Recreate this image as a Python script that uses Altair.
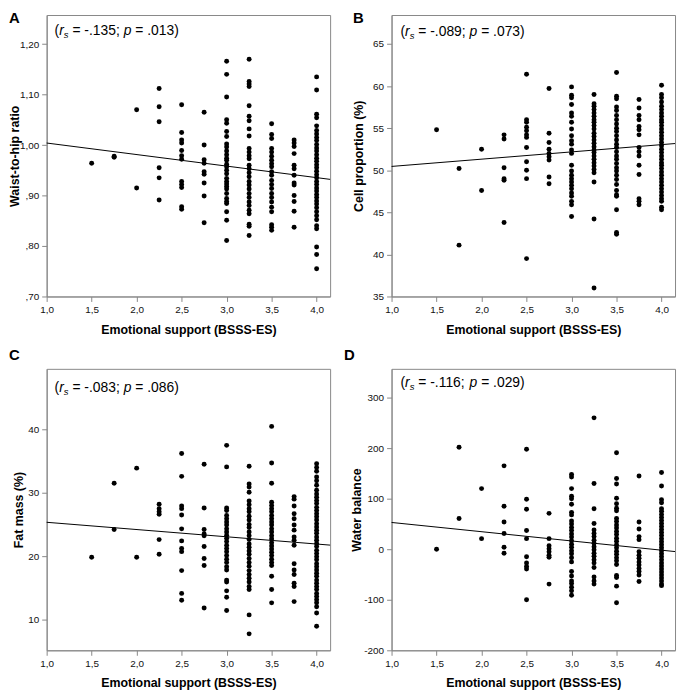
import altair as alt
import pandas as pd

FONT = "Liberation Sans"
GREY = "#888888"

x_ticks = [1.0, 1.5, 2.0, 2.5, 3.0, 3.5, 4.0]
x_domain = [1.0, 4.15]
x_title = "Emotional support (BSSS-ES)"

# ---- Panel A: waist-to-hip ratio ----
whr_points = {
    1.5: [0.964],
    1.75: [0.978, 0.976],
    2.0: [1.070, 0.915],
    2.25: [1.112, 1.076, 1.046, 0.955, 0.935, 0.891],
    2.5: [1.080, 1.025, 1.010, 1.004, 0.989, 0.979, 0.972, 0.928, 0.922, 0.916, 0.878, 0.873],
    2.75: [1.065, 1.000, 0.971, 0.964, 0.947, 0.942, 0.925, 0.899, 0.846],
    3.0: [1.166, 1.140, 1.095, 1.050, 1.043, 1.027, 1.017, 1.002, 0.996, 0.988, 0.981, 0.974,
          0.970, 0.962, 0.957, 0.950, 0.943, 0.934, 0.928, 0.923, 0.918, 0.913, 0.904, 0.894,
          0.888, 0.884, 0.868, 0.851, 0.811],
    3.25: [1.170, 1.126, 1.121, 1.116, 1.078, 1.057, 1.048, 1.032, 1.018, 0.993, 0.986, 0.979,
           0.973, 0.960, 0.953, 0.945, 0.937, 0.928, 0.921, 0.913, 0.904, 0.896, 0.887, 0.880,
           0.871, 0.864, 0.843, 0.839, 0.821],
    3.5: [1.042, 1.021, 1.013, 0.993, 0.986, 0.978, 0.970, 0.963, 0.957, 0.947, 0.940, 0.930,
          0.922, 0.914, 0.904, 0.896, 0.887, 0.877, 0.868, 0.842, 0.837, 0.831],
    3.75: [1.010, 1.004, 0.997, 0.983, 0.960, 0.953, 0.940, 0.925, 0.921, 0.900, 0.888, 0.869, 0.837],
    4.0: [1.135, 1.109, 1.061, 1.054, 1.038, 1.029, 1.022, 1.015, 1.009, 1.001, 0.994, 0.988,
          0.981, 0.974, 0.968, 0.961, 0.955, 0.948, 0.941, 0.935, 0.928, 0.922, 0.915, 0.909,
          0.902, 0.896, 0.889, 0.883, 0.876, 0.868, 0.860, 0.852, 0.840, 0.834, 0.798, 0.783, 0.755],
}
whr_line = [1.004, 0.932]
whr_ticks = [0.70, 0.80, 0.90, 1.00, 1.10, 1.20]
whr_domain = [0.70, 1.2576]

# ---- Panel B: cell proportion ----
cell_points = {
    1.5: [54.8],
    1.75: [50.2, 41.1],
    2.0: [52.5, 47.6],
    2.25: [54.2, 53.7, 50.3, 49.0, 48.8, 43.8],
    2.5: [61.4, 56.0, 55.7, 55.1, 54.7, 54.2, 53.9, 52.7, 51.0, 50.0, 49.0, 39.5],
    2.75: [59.7, 54.4, 53.3, 52.5, 52.0, 51.6, 51.2, 49.2, 48.4],
    3.0: [59.9, 58.9, 58.6, 57.8, 56.8, 56.4, 55.7, 54.9, 54.1, 53.5, 53.1, 52.4, 52.0, 50.6,
          49.9, 49.4, 49.0, 48.6, 48.2, 47.8, 47.3, 46.9, 46.3, 45.9, 44.5],
    3.25: [59.0, 57.9, 57.6, 57.2, 56.8, 56.4, 56.0, 55.7, 55.3, 54.9, 54.4, 54.0, 53.6, 53.2,
           52.8, 52.4, 52.1, 51.7, 51.3, 50.9, 50.5, 50.1, 49.7, 48.6, 44.2, 36.0],
    3.5: [61.6, 58.8, 58.5, 57.5, 57.1, 56.5, 56.0, 55.5, 55.0, 54.6, 54.1, 53.6, 53.1, 52.7,
          52.2, 51.7, 51.3, 50.8, 50.3, 49.9, 49.4, 48.9, 48.3, 47.6, 47.1, 46.9, 45.3, 42.6, 42.4],
    3.75: [58.4, 57.4, 56.5, 56.0, 55.2, 54.8, 54.2, 52.7, 52.2, 51.7, 50.6, 49.5, 46.6, 46.3, 45.9],
    4.0: [60.1, 59.0, 58.6, 58.1, 57.6, 57.2, 56.8, 56.4, 56.0, 55.7, 55.3, 54.9, 54.5, 54.1,
          53.7, 53.3, 52.9, 52.5, 52.1, 51.7, 51.3, 50.9, 50.6, 50.2, 49.8, 49.4, 49.0, 48.6,
          48.2, 47.8, 47.4, 47.0, 46.6, 46.3, 45.6, 45.3],
}
cell_line = [50.45, 53.17]
cell_ticks = [35, 40, 45, 50, 55, 60, 65]
cell_domain = [35, 68.44]

# ---- Panel C: fat mass ----
fat_points = {
    1.5: [19.8],
    1.75: [31.5, 24.2],
    2.0: [33.9, 19.8],
    2.25: [28.2, 27.5, 27.0, 26.6, 22.6, 20.3],
    2.5: [36.2, 32.6, 27.9, 27.5, 26.5, 24.3, 22.4, 21.2, 20.7, 17.7, 14.1, 13.0],
    2.75: [34.5, 27.6, 24.2, 23.5, 23.2, 21.5, 19.6, 18.5, 11.8],
    3.0: [37.5, 34.1, 27.6, 27.2, 26.4, 25.9, 25.4, 24.9, 24.3, 23.8, 23.3, 22.8, 22.3, 21.7,
          21.2, 20.7, 20.1, 19.5, 19.0, 18.3, 17.8, 16.2, 15.9, 14.5, 13.5, 11.4],
    3.25: [34.2, 31.4, 30.9, 30.1, 28.7, 28.1, 27.5, 27.0, 26.3, 25.7, 25.0, 24.5, 23.8, 23.2,
           22.6, 21.9, 21.4, 20.8, 20.3, 19.6, 19.0, 18.4, 17.7, 17.1, 16.5, 15.9, 15.2, 14.7,
           10.7, 7.7],
    3.5: [40.5, 34.7, 31.5, 28.5, 28.0, 27.5, 27.0, 26.4, 25.9, 25.4, 24.9, 24.3, 23.8, 23.2,
          22.7, 22.1, 21.6, 21.1, 20.6, 20.1, 19.5, 19.0, 18.5, 16.8, 14.7, 12.6],
    3.75: [29.4, 29.0, 27.9, 26.7, 25.9, 24.9, 24.1, 23.0, 22.5, 21.7, 18.8, 17.8, 17.1, 15.7,
           15.2, 12.8],
    4.0: [34.6, 34.0, 33.4, 32.5, 31.9, 31.2, 30.4, 29.8, 29.3, 28.8, 28.3, 27.7, 27.2, 26.7,
          26.2, 25.7, 25.1, 24.6, 24.1, 23.6, 23.0, 22.5, 22.0, 21.5, 20.9, 20.4, 19.9, 19.4,
          18.8, 18.3, 17.8, 17.3, 16.8, 16.2, 15.7, 15.2, 14.7, 14.1, 13.6, 13.1, 12.6, 12.0,
          11.0, 8.9],
}
fat_line = [25.34, 21.73]
fat_ticks = [10, 20, 30, 40]
fat_domain = [5.1, 49.6]

# ---- Panel D: water balance ----
water_points = {
    1.5: [0],
    1.75: [202, 61],
    2.0: [120, 21],
    2.25: [165, 85, 54, 31, 4, -8],
    2.5: [198, 99, 79, 37, 21, -15, -27, -34, -39, -100],
    2.75: [71, 21, 7, 1, -5, -12, -16, -69],
    3.0: [148, 143, 120, 105, 100, 89, 73, 68, 56, 50, 43, 37, 30, 24, 17, 10, 4, -3, -9, -17,
          -25, -44, -53, -63, -68, -75, -82, -91],
    3.25: [260, 130, 80, 51, 38, 31, 25, 18, 12, 5, -1, -8, -14, -21, -27, -36, -55, -63, -69],
    3.5: [191, 140, 129, 101, 90, 81, 76, 61, 55, 48, 42, 35, 29, 22, 16, 9, 3, -4, -10, -17,
          -23, -30, -52, -56, -73, -106],
    3.75: [145, 54, 40, 25, 19, -5, -12, -18, -25, -31, -38, -44, -51, -64],
    4.0: [152, 125, 98, 92, 80, 75, 69, 63, 57, 51, 45, 39, 33, 27, 21, 15, 9, 3, -3, -9, -15,
          -21, -27, -33, -39, -45, -51, -57, -63, -69, -72],
}
water_line = [53.0, -4.6]
water_ticks = [-200, -100, 0, 100, 200, 300]
water_domain = [-200, 357]

# Liberation Sans (Arial metrics) advance widths in em
CHAR_W = {'(': 0.333, ')': 0.333, 'r': 0.333, 's': 0.5, ' ': 0.278, '=': 0.584,
          '-': 0.333, '.': 0.278, ';': 0.278, 'p': 0.556}
SPACE = 0.278


def text_width(s, size):
    return sum(CHAR_W.get(c, 0.556) for c in s) * size


def panel(points, line_y, y_domain, y_ticks, y_title, y_label_expr, letter, stat_r, stat_p,
          letter_xy, title_x, ann_xy):
    rows = [{"x": k, "y": v} for k, vals in points.items() for v in vals]
    df = pd.DataFrame(rows)
    xs = alt.Scale(domain=x_domain, nice=False, zero=False)
    ys = alt.Scale(domain=y_domain, nice=False, zero=False)
    x_axis = alt.Axis(values=x_ticks, title=x_title,
                      labelExpr="replace(format(datum.value, '.1f'), '.', ',')",
                      titleY=27, titleBaseline="top")
    y_axis = alt.Axis(values=y_ticks, title=y_title, labelExpr=y_label_expr,
                      titleX=title_x, titleBaseline="alphabetic")
    pts = alt.Chart(df).mark_circle(size=25, color="black", opacity=1).encode(
        x=alt.X("x:Q", scale=xs, axis=x_axis),
        y=alt.Y("y:Q", scale=ys, axis=y_axis),
    )
    ldf = pd.DataFrame({"x": x_domain, "y": line_y})
    line = alt.Chart(ldf).mark_line(color="black", strokeWidth=1).encode(x="x:Q", y="y:Q")
    let = alt.Chart(pd.DataFrame({"t": [letter]})).mark_text(
        font=FONT, fontSize=15, fontWeight="bold", align="left", baseline="top", color="black"
    ).encode(text="t:N", x=alt.value(letter_xy[0]), y=alt.value(letter_xy[1]))

    # (text, size, style, baseline shift, gap after in em of 14px space)
    segs = [("(", 14, "normal", 0, 0), ("r", 14, "italic", 0, 0), ("s", 9.5, "italic", 3, 1),
            (f"= {stat_r};", 14, "normal", 0, 1), ("p", 14, "italic", 0, 1),
            (f"= {stat_p})", 14, "normal", 0, 0)]
    layers = [pts, line, let]
    cx = ann_xy[0]
    for s, size, style, dy, gap in segs:
        layers.append(
            alt.Chart(pd.DataFrame({"t": [s]})).mark_text(
                font=FONT, fontSize=size, fontStyle=style, align="left",
                baseline="alphabetic", color="black"
            ).encode(text="t:N", x=alt.value(cx), y=alt.value(ann_xy[1] + dy))
        )
        cx += text_width(s, size) + gap * SPACE * 14
    return alt.layer(*layers).properties(width=286, height=284)


dec_expr = "replace(replace(format(datum.value, '.2f'), '0.', ','), '.', ',')"
int_expr = "'' + datum.value"

pA = panel(whr_points, whr_line, whr_domain, whr_ticks, "Waist-to-hip ratio", dec_expr,
           "A", "-.135", ".013", (-38, -3.5), -28, (8, 20.5))
pB = panel(cell_points, cell_line, cell_domain, cell_ticks, "Cell proportion (%)", int_expr,
           "B", "-.089", ".073", (-39, -3.5), -29.5, (9, 21))
pC = panel(fat_points, fat_line, fat_domain, fat_ticks, "Fat mass (%)", int_expr,
           "C", "-.083", ".086", (-38, -21), -24.5, (8, 23.5))
pD = panel(water_points, water_line, water_domain, water_ticks, "Water balance", int_expr,
           "D", "-.116", ".029", (-48, -21), -31, (9, 18))

chart = alt.concat(pA, pB, pC, pD, columns=2, spacing={"row": 73, "column": 62},
                   bounds="flush").properties(padding=0).configure_axis(
    grid=False, domainColor=GREY, tickColor=GREY, tickSize=5, labelPadding=3,
    labelFont=FONT, labelFontSize=10, labelColor="#111111", labelFlush=False,
    titleFont=FONT, titleFontSize=12.5, titleFontWeight="bold", titleColor="black",
).configure_view(stroke=GREY, strokeWidth=1)

chart.save("out.html", embed_options={"renderer": "svg", "actions": False})
